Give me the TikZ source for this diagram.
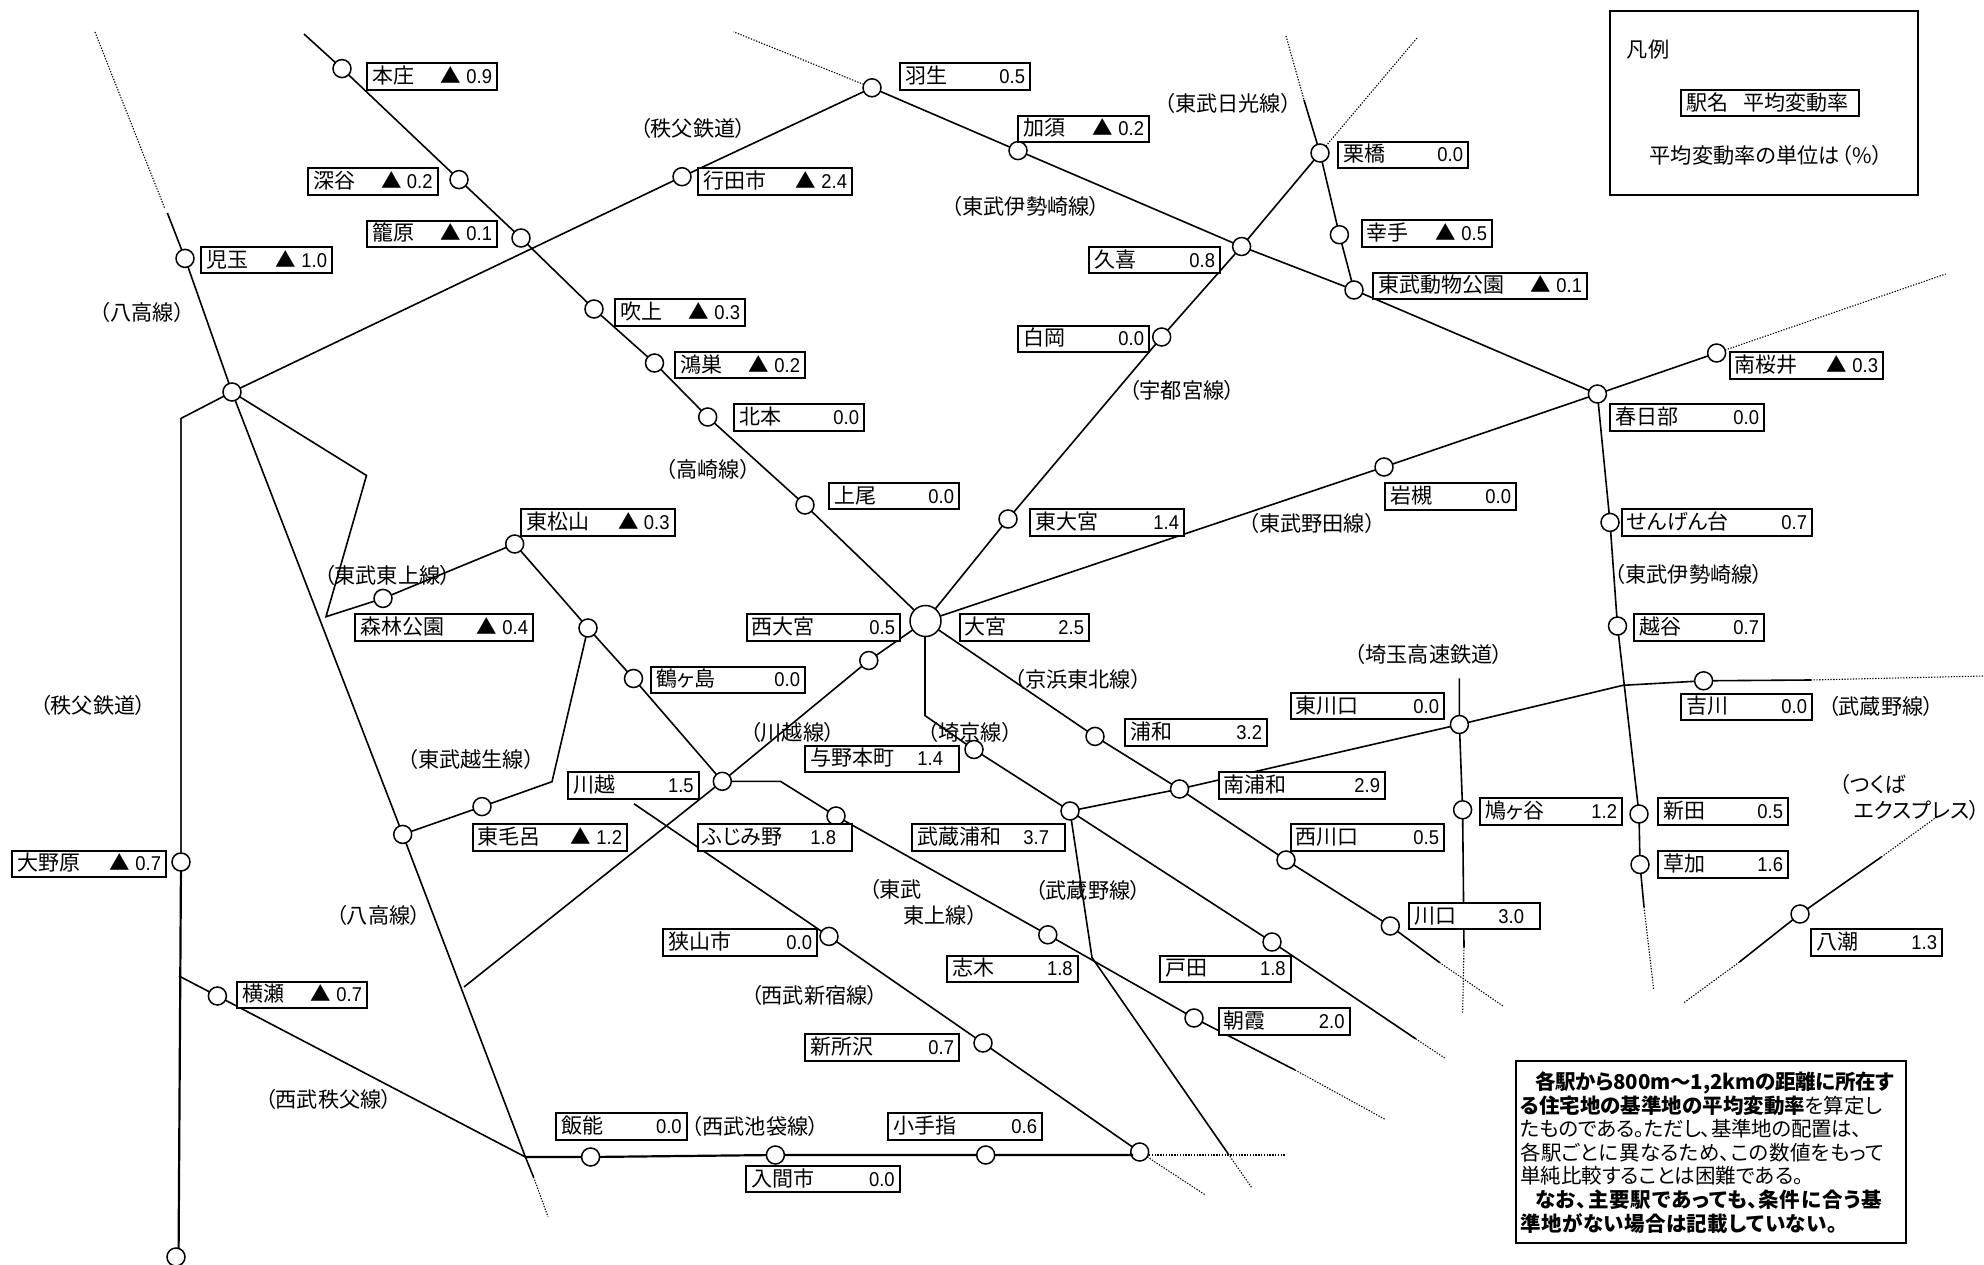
\documentclass[tikz,border=0pt]{standalone}
\usepackage{fontspec}
\setmainfont{Noto Sans CJK JP}[RawFeature=+palt]
\newfontfamily\numf[FakeStretch=0.92]{Liberation Sans}
\newcommand{\stnum}[1]{{\fontsize{20}{22}\numf #1}}
\newcommand{\tri}[1]{{\fontsize{20.5}{22}\selectfont ▲}\hspace{5pt}\stnum{#1}}
\newcommand{\trk}[2]{{\addfontfeature{LetterSpace=#1}#2}}
\newcommand{\lab}[7]{%
  \pgfmathsetmacro{\lw}{#4-#2}\pgfmathsetmacro{\lh}{#5-#3}%
  \pgfmathsetmacro{\lt}{#4-#2-10}%
  \node[labbox,minimum width=\lw pt,minimum height=\lh pt,anchor=north west] (#1) at (#2,#3)
    {\hbox to \lt pt{#6\hfill #7}};}
\tikzset{
  stn/.style={circle,draw=black,fill=white,line width=1.5pt,minimum size=18pt,inner sep=0pt,outer sep=0pt},
  labbox/.style={rectangle,draw=black,fill=white,line width=2pt,inner sep=0pt,outer sep=0pt,
     font=\fontsize{21}{23}\selectfont,text height=16pt,text depth=2pt},
  linelab/.style={font=\fontsize{21.2}{23}\selectfont,inner sep=0pt,text=black},
  rail/.style={draw=black,line width=1.6pt},
  railthin/.style={draw=black!85,line width=1.3pt},
  railthick/.style={draw=black,line width=2.2pt},
  dotline/.style={draw=black,line width=1.1pt,dash pattern=on 1.3pt off 1.5pt},
}
\begin{document}
\begin{tikzpicture}[x=1pt,y=-1pt]
\fill[white] (0,0) rectangle (1984,1265);
\useasboundingbox (0,0) rectangle (1984,1265);
% stations
\node[stn] (honjo) at (342,68.6) {};
\node[stn] (fukaya) at (459,179.6) {};
\node[stn] (kagohara) at (521,238) {};
\node[stn] (kodama) at (185,258.4) {};
\node[stn] (fukiage) at (594,309) {};
\node[stn] (konosu) at (654.5,363) {};
\node[stn] (kitamoto) at (707.7,417) {};
\node[stn] (ageo) at (805,505) {};
\node[stn] (yorii) at (232,392) {};
\node[stn] (gyoda) at (682,176.7) {};
\node[stn] (hanyu) at (872,87.8) {};
\node[stn] (kazo) at (1018,150.6) {};
\node[stn] (kuki) at (1241.6,246.5) {};
\node[stn] (kurihashi) at (1320,153) {};
\node[stn] (satte) at (1339.4,234.7) {};
\node[stn] (dobutsu) at (1354,290) {};
\node[stn] (kasukabe) at (1597.4,394) {};
\node[stn] (minamisakurai) at (1716.6,353) {};
\node[stn] (iwatsuki) at (1384,467) {};
\node[stn] (sengendai) at (1610,522.4) {};
\node[stn] (koshigaya) at (1617.5,626) {};
\node[stn] (shiraoka) at (1161.7,337) {};
\node[stn] (higashiomiya) at (1008,519) {};
\node[stn,minimum size=31pt] (omiya) at (925.5,621) {};
\node[stn] (nishiomiya) at (868.8,660.5) {};
\node[stn] (higashimatsuyama) at (514.7,544) {};
\node[stn] (shinrin) at (383,598.4) {};
\node[stn] (sakado) at (588,628) {};
\node[stn] (tsurugashima) at (633.5,678.5) {};
\node[stn] (kawagoe) at (722.3,781.3) {};
\node[stn] (fujimino) at (836,816) {};
\node[stn] (shiki) at (1047.8,934.8) {};
\node[stn] (asaka) at (1194,1018) {};
\node[stn] (ogose) at (402.7,834.4) {};
\node[stn] (higashimoro) at (482,806.6) {};
\node[stn] (yono) at (974,749.5) {};
\node[stn] (urawa) at (1095,736.4) {};
\node[stn] (minamiurawa) at (1179.5,789) {};
\node[stn] (musashiurawa) at (1070,811) {};
\node[stn] (toda) at (1272,942) {};
\node[stn] (nishikawaguchi) at (1286,860) {};
\node[stn] (kawaguchi) at (1390.3,926) {};
\node[stn] (higashikawaguchi) at (1459.4,724.5) {};
\node[stn] (hatogaya) at (1462.6,809.8) {};
\node[stn] (yoshikawa) at (1703.6,680.8) {};
\node[stn] (nitta) at (1639,814) {};
\node[stn] (soka) at (1640,864.5) {};
\node[stn] (yashio) at (1800,914) {};
\node[stn] (onohara) at (181,862) {};
\node[stn] (bottom) at (176,1257) {};
\node[stn] (yokoze) at (217.4,996) {};
\node[stn] (hanno) at (590.6,1157) {};
\node[stn] (irumashi) at (775.4,1155) {};
\node[stn] (kotesashi) at (985.7,1155) {};
\node[stn] (tokorozawa) at (1139.7,1152) {};
\node[stn] (sayama) at (829,936.4) {};
\node[stn] (shintoko) at (983,1043) {};
% free ends and bends
\coordinate (tkTop) at (304,34);
\coordinate (hkA) at (95,32);
\coordinate (hkB) at (165,209);
\coordinate (hkC) at (167.4,213);
\coordinate (hkJ) at (525.4,1157);
\coordinate (hkD) at (533.5,1177);
\coordinate (hkE) at (548,1217);
\coordinate (cbKink) at (181,418.4);
\coordinate (cbLow) at (179,976);
\coordinate (cbEnd) at (178.6,1249);
\coordinate (tjA) at (366.5,475.5);
\coordinate (tjB) at (326,616.7);
\coordinate (tjC) at (780.4,781.3);
\coordinate (tjD) at (1295,1070);
\coordinate (tjE) at (1385,1119.3);
\coordinate (ogK) at (552,781.7);
\coordinate (kwEnd) at (464,987);
\coordinate (ssStart) at (634,803.8);
\coordinate (tokL) at (1133,1155);
\coordinate (tokDs) at (1149,1155);
\coordinate (tokDa) at (1285.7,1155);
\coordinate (tokDb) at (1205,1194.7);
\coordinate (isD) at (1644,907);
\coordinate (isE) at (1653.6,989);
\coordinate (uE) at (1417,38);
\coordinate (nkA) at (1286,36);
\coordinate (nkB) at (1304,100);
\coordinate (ndE) at (1945.6,274);
\coordinate (hnD) at (733.6,31.8);
\coordinate (kkA) at (1439.4,962.4);
\coordinate (kkB) at (1503,1006);
\coordinate (skK) at (925,715.6);
\coordinate (skOm) at (925,636);
\coordinate (skA) at (1415.7,1038.8);
\coordinate (skB) at (1444.7,1058);
\coordinate (msK) at (1092,957.6);
\coordinate (msA) at (1228.3,1154);
\coordinate (msB) at (1251.7,1187.7);
\coordinate (msC) at (1623,685.3);
\coordinate (msD) at (1810.8,680);
\coordinate (msE) at (1984,676);
\coordinate (stTop) at (1459.4,678.4);
\coordinate (stA) at (1464,947);
\coordinate (stB) at (1462.6,1014);
\coordinate (txA) at (1739.4,962);
\coordinate (txB) at (1683.5,1003);
\coordinate (txC) at (1881.3,857);
\coordinate (txD) at (1938,816);
% lines
\draw[rail] (tkTop) -- (honjo) -- (fukaya) -- (kagohara) -- (fukiage) -- (konosu) -- (kitamoto) -- (ageo) -- (omiya);
\draw[rail] (yorii) -- (gyoda) -- (hanyu);
\draw[dotline] (hanyu) -- (hnD);
\draw[railthin] (cbKink) -- (onohara);
\draw[rail] (yorii) -- (cbKink);
\draw[railthick] (onohara) -- (cbEnd);
\draw[dotline] (hkA) -- (hkB);
\draw[rail] (hkC) -- (kodama) -- (yorii) -- (ogose) -- (hkJ) -- (hkD);
\draw[dotline] (hkD) -- (hkE);
\draw[rail] (yorii) -- (tjA) -- (tjB) -- (shinrin) -- (higashimatsuyama) -- (sakado) -- (tsurugashima) -- (kawagoe) -- (tjC) -- (fujimino) -- (shiki) -- (asaka) -- (tjD);
\draw[dotline] (tjD) -- (tjE);
\draw[rail] (ogose) -- (higashimoro) -- (ogK) -- (sakado);
\draw[rail] (kwEnd) -- (kawagoe) -- (nishiomiya) -- (omiya);
\draw[rail] (ssStart) -- (sayama) -- (shintoko) -- (tokorozawa);
\draw[rail] (cbLow) -- (yokoze) -- (hkJ);
\draw[railthick] (hkJ) -- (hanno) -- (irumashi) -- (kotesashi) -- (tokL);
\draw[dotline] (tokDs) -- (tokDa);
\draw[dotline] (tokorozawa) -- (tokDb);
\draw[rail] (hanyu) -- (kazo) -- (kuki) -- (dobutsu) -- (kasukabe) -- (sengendai) -- (koshigaya) -- (nitta) -- (soka) -- (isD);
\draw[dotline] (isD) -- (isE);
\draw[rail] (omiya) -- (higashiomiya) -- (shiraoka) -- (kuki) -- (kurihashi);
\draw[dotline] (kurihashi) -- (uE);
\draw[dotline] (nkA) -- (nkB);
\draw[rail] (nkB) -- (kurihashi) -- (satte) -- (dobutsu);
\draw[rail] (omiya) -- (iwatsuki) -- (kasukabe) -- (minamisakurai);
\draw[dotline] (minamisakurai) -- (ndE);
\draw[rail] (omiya) -- (urawa) -- (minamiurawa) -- (nishikawaguchi) -- (kawaguchi) -- (kkA);
\draw[dotline] (kkA) -- (kkB);
\draw[rail] (skOm) -- (skK) -- (yono) -- (musashiurawa) -- (toda) -- (skA);
\draw[dotline] (skA) -- (skB);
\draw[rail] (musashiurawa) -- (msK) -- (msA);
\draw[dotline] (msA) -- (msB);
\draw[rail] (musashiurawa) -- (minamiurawa) -- (higashikawaguchi) -- (msC) -- (yoshikawa) -- (msD);
\draw[dotline] (msD) -- (msE);
\draw[rail] (stTop) -- (higashikawaguchi) -- (hatogaya) -- (stA);
\draw[dotline] (stA) -- (stB);
\draw[rail] (txA) -- (yashio) -- (txC);
\draw[dotline] (txA) -- (txB);
\draw[dotline] (txC) -- (txD);
% label boxes
\lab{lHonjo}{367}{63.3}{497}{89.8}{本庄}{\tri{0.9}}
\lab{lFukaya}{308}{167.8}{437.5}{194.7}{深谷}{\tri{0.2}}
\lab{lKagohara}{367}{220.8}{497}{247}{籠原}{\tri{0.1}}
\lab{lKodama}{201}{247.3}{332}{273.5}{児玉}{\tri{1.0}}
\lab{lFukiage}{615}{299}{745}{325.7}{吹上}{\tri{0.3}}
\lab{lKonosu}{675}{352}{805}{378.4}{鴻巣}{\tri{0.2}}
\lab{lKitamoto}{734}{404}{864}{430.6}{北本}{\stnum{0.0}}
\lab{lAgeo}{829}{483}{959}{509.4}{上尾}{\stnum{0.0}}
\lab{lGyoda}{698}{167.8}{852}{194.7}{行田市}{\tri{2.4}}
\lab{lHanyu}{900}{63.3}{1030}{89.8}{羽生}{\stnum{0.5}}
\lab{lKazo}{1018}{116}{1149}{141.6}{加須}{\tri{0.2}}
\lab{lKurihashi}{1338}{141.6}{1468}{168}{栗橋}{\stnum{0.0}}
\lab{lKuki}{1089}{247}{1220}{273.5}{久喜}{\stnum{0.8}}
\lab{lShiraoka}{1018}{325.7}{1149}{351.8}{白岡}{\stnum{0.0}}
\lab{lHigashiomiya}{1030}{509.4}{1184}{536}{東大宮}{\stnum{1.4}}
\lab{lNishiomiya}{746.5}{614}{900}{641}{西大宮}{\stnum{0.5}}
\lab{lOmiya}{959.5}{614}{1089}{641}{大宮}{\stnum{2.5}}
\lab{lSatte}{1361.7}{220.4}{1492}{247}{幸手}{\tri{0.5}}
\lab{lDobutsu}{1373}{273}{1587}{299}{東武動物公園}{\tri{0.1}}
\lab{lKasukabe}{1610}{404}{1764}{430.6}{春日部}{\stnum{0.0}}
\lab{lMinamisakurai}{1729.5}{352}{1883}{378.8}{南桜井}{\tri{0.3}}
\lab{lIwatsuki}{1385}{483}{1516}{510}{岩槻}{\stnum{0.0}}
\lab{lSengendai}{1622}{509.4}{1812}{535.5}{せんげん台}{\stnum{0.7}}
\lab{lKoshigaya}{1634}{614.3}{1764}{641}{越谷}{\stnum{0.7}}
\lab{lHigashimatsuyama}{521}{509.4}{674.5}{535.5}{東松山}{\tri{0.3}}
\lab{lShinrin}{355}{614.3}{533}{641.3}{森林公園}{\tri{0.4}}
\lab{lTsurugashima}{651}{666.6}{805}{693}{鶴ヶ島}{\stnum{0.0}}
\lab{lKawagoe}{568}{772.3}{698.7}{798.9}{川越}{\stnum{1.5}}
\lab{lHigashimoro}{472.8}{824}{627}{850.7}{東毛呂}{\tri{1.2}}
\lab{lFujimino}{698}{824}{852}{850.7}{ふじみ野}{\stnum{1.8}\hspace{11pt}}
\lab{lYono}{805}{745.8}{959}{772}{与野本町}{\stnum{1.4}\hspace{11pt}}
\lab{lUrawa}{1125}{719}{1267}{745.7}{浦和}{\stnum{3.2}}
\lab{lMinamiurawa}{1218.8}{771.7}{1385}{798.7}{南浦和}{\stnum{2.9}}
\lab{lMusashiurawa}{912}{824}{1065}{850.7}{武蔵浦和}{\stnum{3.7}\hspace{11pt}}
\lab{lNishikawaguchi}{1290.7}{823.7}{1444}{850.6}{西川口}{\stnum{0.5}}
\lab{lHigashikawaguchi}{1290.7}{693}{1444}{719}{東川口}{\stnum{0.0}}
\lab{lHatogaya}{1480}{798}{1622}{824.5}{鳩ヶ谷}{\stnum{1.2}}
\lab{lKawaguchi}{1409}{903}{1540}{929.4}{川口}{\stnum{3.0}\hspace{11pt}}
\lab{lYoshikawa}{1681.3}{693.5}{1812}{719.6}{吉川}{\stnum{0.0}}
\lab{lNitta}{1658}{798}{1788}{824.5}{新田}{\stnum{0.5}}
\lab{lSoka}{1658}{850.6}{1788}{877.5}{草加}{\stnum{1.6}}
\lab{lYashio}{1811}{929}{1942}{956}{八潮}{\stnum{1.3}}
\lab{lToda}{1160}{955.7}{1290.6}{981.7}{戸田}{\stnum{1.8}}
\lab{lAsaka}{1218.8}{1008}{1349.5}{1034.7}{朝霞}{\stnum{2.0}}
\lab{lShiki}{947}{955.6}{1077.7}{981.7}{志木}{\stnum{1.8}}
\lab{lSayama}{663}{929}{817}{955.6}{狭山市}{\stnum{0.0}}
\lab{lShintoko}{805}{1034}{959}{1061}{新所沢}{\stnum{0.7}}
\lab{lKotesashi}{888}{1113}{1042}{1139.7}{小手指}{\stnum{0.6}}
\lab{lHanno}{556}{1113}{686.6}{1139.7}{飯能}{\stnum{0.0}}
\lab{lIrumashi}{746}{1166}{899.6}{1192}{入間市}{\stnum{0.0}}
\lab{lOnohara}{12}{850.7}{166}{877}{大野原}{\tri{0.7}}
\lab{lYokoze}{237}{981.7}{367}{1008}{横瀬}{\tri{0.7}}
% line names
\node[linelab] (t1) at (142,312) {（八高線）};
\node[linelab] (t2) at (693,128) {（秩父鉄道）};
\node[linelab] (t3) at (1228,103) {（東武日光線）};
\node[linelab] (t4) at (1026,206) {（東武伊勢崎線）};
\node[linelab] (t5) at (1182,390.6) {（宇都宮線）};
\node[linelab] (t6) at (708,469) {（高崎線）};
\node[linelab] (t7) at (1312,523.7) {（東武野田線）};
\node[linelab] (t8) at (1689,574.7) {（東武伊勢崎線）};
\node[linelab] (t9) at (387.5,575.5) {（東武東上線）};
\node[linelab] (t10) at (93,705.4) {（秩父鉄道）};
\node[linelab] (t11) at (471,759.7) {（東武越生線）};
\node[linelab] (t12) at (378.6,915.6) {（八高線）};
\node[linelab] (t13) at (328.6,1099.7) {（西武秩父線）};
\node[linelab] (t14) at (792.4,732) {（川越線）};
\node[linelab] (t15) at (970,732) {（埼京線）};
\node[linelab] (t16) at (1078,679.3) {（京浜東北線）};
\node[linelab] (t17) at (895.5,889.5) {（東武};
\node[linelab] (t18) at (940.6,915.6) {東上線）};
\node[linelab] (t19) at (1088,890) {（武蔵野線）};
\node[linelab] (t20) at (814.7,995.6) {（西武新宿線）};
\node[linelab] (t21) at (755.4,1126) {（西武池袋線）};
\node[linelab] (t22) at (1429,654) {（埼玉高速鉄道）};
\node[linelab] (t23) at (1881,706) {（武蔵野線）};
\node[linelab] (t24) at (1873,784) {（つくば};
\node[linelab,anchor=east] (t25) at (1980,810.6) {エクスプレス）};
% legend
\node[draw=black,line width=2pt,minimum width=308pt,minimum height=184pt,anchor=north west,inner sep=0pt,outer sep=0pt] (legend) at (1610,11) {};
\node[linelab] (legendTitle) at (1648,50) {凡例};
\lab{legendKey}{1681}{90}{1859}{116.3}{駅名}{平均変動率\hspace{6pt}}
\node[linelab] (legendNote) at (1766,155) {平均変動率の単位は\hspace{2pt}（\%）};
% note
\node[draw=black,line width=2pt,minimum width=390pt,minimum height=182pt,anchor=north west,inner sep=0pt,outer sep=0pt] (noteBox) at (1516,1061) {};
\node[anchor=west,inner sep=0pt,align=left,font=\fontsize{20.5}{23.6}\selectfont] (noteText) at (1520,1152.5) {%
\textbf{\hspace*{15pt}\trk{-1}{各駅から800m～1,2kmの距離に所在す}}\\
\textbf{る住宅地の基準地の平均変動率}を算定し\\
\trk{-1.3}{たものである。ただし、基準地の配置は、}\\
\trk{2}{各駅ごとに異なるため、この数値をもって}\\
単純比較することは困難である。\\
\textbf{\hspace*{15pt}\trk{4.5}{なお、主要駅であっても、条件に合う基}}\\
\textbf{\trk{2.3}{準地がない場合は記載していない。}}};
\end{tikzpicture}
\end{document}
